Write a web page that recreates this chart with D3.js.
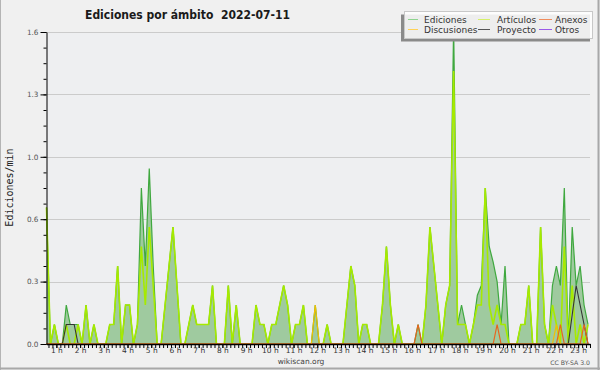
<!DOCTYPE html>
<html><head><meta charset="utf-8">
<script src="https://cdn.jsdelivr.net/npm/d3@7"></script>
<style>body{margin:0;background:#f0f0f0;} svg{display:block;} text{font-family:"DejaVu Sans",sans-serif;}</style>
</head><body><svg id="c" width="600" height="370"></svg>
<script>
// ---- data: 10-minute slots, edits per minute ----
const firstSlotMinute = 35;      // first slot time (minutes after 00:00)
const slotStep = 10;             // minutes per slot
const hourTicks = [1,2,3,4,5,6,7,8,9,10,11,12,13,14,15,16,17,18,19,20,21,22,23];
const hourLabels = ["1 h","2 h","3 h","4 h","5 h","6 h","7 h","8 h","9 h","10 h","11 h","12 h","13 h","14 h","15 h","16 h","17 h","18 h","19 h","20 h","21 h","22 h","23 h"];
const yTickValues = [0, 0.32, 0.64, 0.96, 1.28, 1.6];
const yTickLabels = ["0.0","0.3","0.6","1.0","1.3","1.6"];

const ediciones = [
 0.7,0,0.1,0,0,0.2,0.1,0.1,0.1,0,
 0.2,0,0.1,0,0,0,0.1,0.1,0.4,0,
 0.2,0.2,0,0.1,0.8,0.4,0.9,0.4,0,0,
 0.2,0.4,0.6,0.3,0,0,0.1,0.2,0.1,0.1,
 0.1,0.1,0.3,0,0,0,0.3,0,0.2,0,
 0,0,0,0.2,0.1,0.1,0,0.1,0.1,0.2,
 0.3,0.2,0,0.1,0.1,0.2,0,0,0.2,0,
 0,0.1,0,0,0,0,0.2,0.4,0.3,0,
 0.1,0.1,0,0,0,0.2,0.5,0.2,0,0.1,
 0,0,0,0,0.1,0,0.2,0.6,0.4,0.2,
 0,0.2,0.3,1.63,0.1,0.2,0.1,0,0.1,0.25,
 0.3,0.8,0.5,0.42,0.32,0.1,0.4,0,0,0,
 0.1,0.1,0.3,0,0,0.6,0.1,0,0.3,0.4,
 0.3,0.8,0,0.6,0.3,0.4,0.2,0.1];
const articulos = [
 0.7,0,0.1,0,0,0.1,0,0,0.1,0,
 0.2,0,0.1,0,0,0,0.1,0.1,0.4,0,
 0.2,0.2,0,0.1,0.5,0.2,0.6,0.3,0,0,
 0.2,0.4,0.6,0.3,0,0,0.1,0.2,0.1,0.1,
 0.1,0.1,0.3,0,0,0,0.3,0,0.2,0,
 0,0,0,0.2,0.1,0.1,0,0.1,0.1,0.2,
 0.3,0.2,0,0.1,0.1,0.2,0,0,0,0,
 0,0.1,0,0,0,0,0.2,0.4,0.3,0,
 0.1,0.1,0,0,0,0.2,0.5,0.2,0,0.1,
 0,0,0,0,0,0,0.2,0.6,0.4,0.2,
 0,0.2,0.3,1.4,0.1,0.1,0.1,0,0.1,0.2,
 0.2,0.8,0.2,0.1,0.2,0.1,0.1,0,0,0,
 0.1,0.1,0.3,0,0,0.6,0.1,0,0.2,0.1,
 0,0.5,0,0.3,0,0.1,0,0.1];
const anexos = [
 0,0,0,0,0,0,0,0,0,0, 0,0,0,0,0,0,0,0,0,0, 0,0,0,0,0,0,0,0,0,0,
 0,0,0,0,0,0,0,0,0,0, 0,0,0,0,0,0,0,0,0,0, 0,0,0,0,0,0,0,0,0,0,
 0,0,0,0,0,0,0,0,0,0, 0,0,0,0,0,0,0,0,0,0, 0,0,0,0,0,0,0,0,0,0,
 0,0,0,0,0.1,0,0,0,0,0, 0,0,0,0,0,0,0,0,0,0, 0,0,0,0,0.1,0,0,0,0,0,
 0,0,0,0,0,0,0,0,0,0, 0.1,0,0,0,0,0,0.1,0];
const discusiones = [
 0,0,0,0,0,0,0,0,0,0, 0,0,0,0,0,0,0,0,0,0, 0,0,0,0,0,0,0,0,0,0,
 0,0,0,0,0,0,0,0,0,0, 0,0,0,0,0,0,0,0,0,0, 0,0,0,0,0,0,0,0,0,0,
 0,0,0,0,0,0,0,0,0.2,0, 0,0,0,0,0,0,0,0,0,0, 0,0,0,0,0,0,0,0,0,0,
 0,0,0,0,0,0,0,0,0,0, 0,0,0,0,0,0,0,0,0,0, 0,0,0,0,0,0,0,0,0,0,
 0,0,0,0,0,0,0,0,0,0.1, 0,0,0,0,0,0,0,0];
const proyecto = [
 0,0,0,0,0,0.1,0.1,0.1,0,0, 0,0,0,0,0,0,0,0,0,0, 0,0,0,0,0,0,0,0,0,0,
 0,0,0,0,0,0,0,0,0,0, 0,0,0,0,0,0,0,0,0,0, 0,0,0,0,0,0,0,0,0,0,
 0,0,0,0,0,0,0,0,0,0, 0,0,0,0,0,0,0,0,0,0, 0,0,0,0,0,0,0,0,0,0,
 0,0,0,0,0,0,0,0,0,0, 0,0,0,0,0,0,0,0,0,0, 0,0,0,0,0,0,0,0,0,0,
 0,0,0,0,0,0,0,0,0,0, 0,0,0,0.15,0.3,0.2,0.1,0];
const otros = [
 0,0,0,0,0,0,0,0,0,0, 0,0,0,0,0,0,0,0,0,0, 0,0,0,0,0,0,0,0,0,0,
 0,0,0,0,0,0,0,0,0,0, 0,0,0,0,0,0,0,0,0,0, 0,0,0,0,0,0,0,0,0,0,
 0,0,0,0,0,0,0,0,0,0, 0,0,0,0,0,0,0,0,0,0, 0,0,0,0,0,0,0,0,0,0,
 0,0,0,0,0,0,0,0,0,0, 0,0,0,0,0,0,0,0,0,0, 0,0,0,0,0,0,0,0,0,0,
 0,0,0,0,0,0,0,0,0,0, 0,0,0,0,0,0,0,0];

const legendItems = [
 {name:"Ediciones",   color:"#8fd48f", col:0, row:0},
 {name:"Artículos",   color:"#d6f06a", col:1, row:0},
 {name:"Anexos",      color:"#f08c5c", col:2, row:0},
 {name:"Discusiones", color:"#ffd256", col:0, row:1},
 {name:"Proyecto",    color:"#555555", col:1, row:1},
 {name:"Otros",       color:"#9a5ae8", col:2, row:1}
];

// ---- drawing ----
const svg = d3.select("#c");
const x = d3.scaleLinear().domain([35, 1410]).range([46.5, 590]);
const y = d3.scaleLinear().domain([0, 1.6]).range([344, 32]);
const tMin = i => firstSlotMinute + slotStep * i;

svg.append("rect").attr("width",600).attr("height",370).attr("fill","#f0f0f0");
svg.append("rect").attr("x",46.5).attr("y",32).attr("width",543.5).attr("height",312).attr("fill","#eeeff1");

// outer frame
svg.append("line").attr("x1",0.5).attr("x2",0.5).attr("y1",0).attr("y2",370).attr("stroke","#b4b4b4");
svg.append("line").attr("x1",598.5).attr("x2",598.5).attr("y1",0).attr("y2",370).attr("stroke","#a8a8a8").attr("stroke-width",2);
svg.append("line").attr("x1",0).attr("x2",600).attr("y1",368.5).attr("y2",368.5).attr("stroke","#a8a8a8").attr("stroke-width",2);

// grid
svg.append("g").selectAll("line").data(yTickValues.slice(1)).join("line")
  .attr("x1",47).attr("x2",590)
  .attr("y1",d=>Math.round(y(d))+0.5).attr("y2",d=>Math.round(y(d))+0.5)
  .attr("stroke","#cbcbcb").attr("stroke-width",1);

// total area
const area = d3.area().x((d,i)=>x(tMin(i))).y0(y(0)).y1(d=>y(d));
svg.append("path").datum(ediciones).attr("d",area).attr("fill","#9fca9f");

const line = d3.line().x((d,i)=>x(tMin(i))).y(d=>y(d));
function drawLine(arr,color,w){
  svg.append("path").datum(arr).attr("d",line).attr("fill","none")
    .attr("stroke",color).attr("stroke-width",w).attr("stroke-linejoin","miter");
}
drawLine(ediciones,"#3fa83f",1.2);
drawLine(articulos,"#a6ea00",1.6);
drawLine(otros,"#9933ee",1.1);
drawLine(proyecto,"#333333",1.1);
drawLine(discusiones,"#f2c000",1.2);
drawLine(anexos,"#e8641e",1.2);

// y axis
const yMinor = d3.axisLeft(y).tickValues([0,0.08,0.16,0.24,0.32,0.4,0.48,0.56,0.64,0.72,0.8,0.88,0.96,1.04,1.12,1.2,1.28,1.36,1.44,1.52,1.6]).tickSize(3).tickFormat("");
const gyMinor = svg.append("g").attr("transform","translate(46.5,0)").call(yMinor);
gyMinor.select(".domain").remove();
const yAxis = d3.axisLeft(y).tickValues(yTickValues).tickFormat((d,i)=>yTickLabels[i]).tickSize(6).tickPadding(2).tickSizeOuter(0);
const gy = svg.append("g").attr("transform","translate(46.5,0)").call(yAxis);
gy.selectAll("text").attr("font-family","DejaVu Sans").attr("font-size",7.3).attr("fill","#555");
gy.selectAll("line,path").attr("stroke","#000");

// x axis
const minorX = d3.range(0, 138).map(i => 40 + 10*i).filter(t => t <= 1410);
const xMinor = d3.axisBottom(x).tickValues(minorX).tickSize(4).tickFormat("").tickSizeOuter(0);
const gxMinor = svg.append("g").attr("transform","translate(0,344)").call(xMinor);
gxMinor.selectAll("line,path").attr("stroke","#000");
gxMinor.select(".domain").attr("stroke-width",1.5);
const xAxis = d3.axisBottom(x).tickValues(hourTicks.map(h=>h*60)).tickFormat((d,i)=>hourLabels[i]).tickSize(4);
const gx = svg.append("g").attr("transform","translate(0,344)").call(xAxis);
gx.select(".domain").remove();
gx.selectAll("line").attr("stroke","#000");
gx.selectAll("text").attr("y",9).attr("dy",0).attr("font-family","DejaVu Sans").attr("font-size",7.5).attr("fill","#333");

// titles
svg.append("text").attr("x",187.5).attr("y",18.5).attr("text-anchor","middle")
  .attr("font-weight","bold").attr("font-size",12).attr("fill","#1a1a1a").style("white-space","pre")
  .attr("textLength",205).attr("lengthAdjust","spacingAndGlyphs")
  .text("Ediciones por ámbito  2022-07-11");
svg.append("text").attr("transform","translate(13,187.5) rotate(-90)").attr("text-anchor","middle")
  .attr("font-family","DejaVu Sans Mono").style("font-family","DejaVu Sans Mono").attr("font-size",10).attr("fill","#222")
  .text("Ediciones/min");
svg.append("text").attr("x",301).attr("y",364).attr("text-anchor","middle").attr("font-size",7.5).attr("fill","#444").text("wikiscan.org");
svg.append("text").attr("x",590).attr("y",365).attr("text-anchor","end").attr("font-size",6.2).attr("fill","#555").text("CC BY-SA 3.0");

// legend
svg.append("rect").attr("x",401).attr("y",14.5).attr("width",189).attr("height",27).attr("fill","#8a8a8a");
svg.append("rect").attr("x",404.5).attr("y",11.5).attr("width",188).attr("height",27).attr("fill","#ffffff").attr("fill-opacity",0.86).attr("stroke","#c8c8c8");
const colLine = [[408,418],[478,490],[539,552]];
const colText = [424,497,555];
const lg = svg.append("g").selectAll("g").data(legendItems).join("g");
lg.append("line").attr("x1",d=>colLine[d.col][0]).attr("x2",d=>colLine[d.col][1])
  .attr("y1",d=>19.5+10*d.row).attr("y2",d=>19.5+10*d.row).attr("stroke",d=>d.color).attr("stroke-width",1);
lg.append("text").attr("x",d=>colText[d.col]).attr("y",d=>22.6+10*d.row).attr("font-size",9).attr("fill","#333").text(d=>d.name);
</script></body></html>
